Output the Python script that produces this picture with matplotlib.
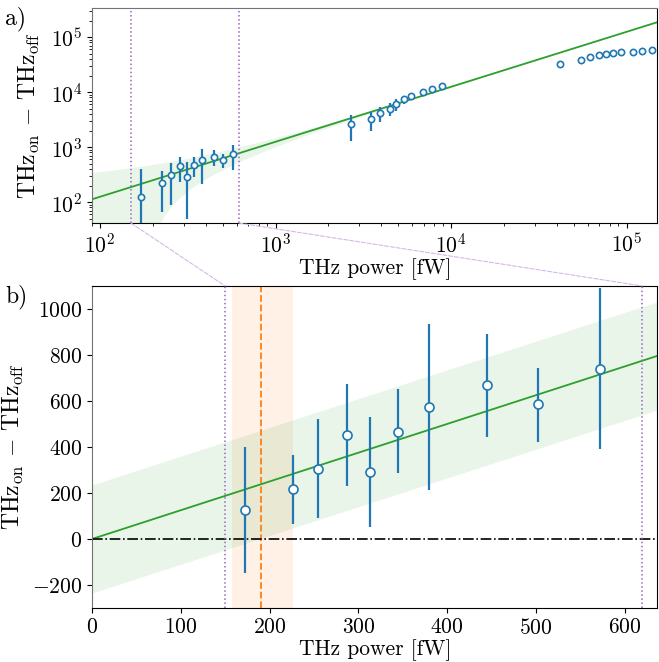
import numpy as np
import matplotlib
matplotlib.use('Agg')
import matplotlib.pyplot as plt
from matplotlib.patches import ConnectionPatch

plt.rcParams['font.family'] = 'serif'
plt.rcParams['font.serif'] = ['cmr10']
plt.rcParams['mathtext.fontset'] = 'cm'
plt.rcParams['axes.unicode_minus'] = False
plt.rcParams['axes.formatter.use_mathtext'] = True
plt.rcParams['font.size'] = 15.5

# low-power points (shown in both panels)
p_low = [172, 226, 255, 287, 313, 345, 380, 445, 503, 572]
s_low = [125, 218, 305, 452, 290, 465, 575, 670, 585, 740]
s_low_lo = [-150, 65, 90, 230, 50, 285, 215, 445, 420, 390]
s_low_hi = [400, 365, 520, 675, 530, 650, 935, 890, 745, 1090]

# mid-power points with error bars (top panel)
p_mid = [2690, 3520, 3950, 4470, 4890, 5370, 5910, 6950, 7830, 8930]
s_mid = [2620, 3230, 4100, 5010, 6120, 7360, 8570, 10000, 11500, 13000]
s_mid_lo = [1300, 1950, 2880, 3660, 4580, 5970, 8570, 10000, 11500, 13000]
s_mid_hi = [3900, 4380, 5260, 6240, 7360, 8100, 8570, 10000, 11500, 13000]

# high-power points (top panel, no error bars)
p_high = [41900, 55100, 62100, 69500, 76200, 83900, 92500, 108300, 122400, 139000]
s_high = [32700, 38700, 43300, 47100, 49800, 51900, 52800, 54100, 56300, 58100]

slope = 1.25
band = 235
zoom_range = [150, 620]
thr = 190
thr_band = [158, 226]

blue = '#1f77b4'
green = '#2ca02c'
purple = '#9467bd'
orange = '#ff7f0e'
ylab = r'THz$_{\rm on}$ $-$ THz$_{\rm off}$'

fig = plt.figure(figsize=(6.59, 6.62), dpi=100)
ax1 = fig.add_axes([0.1396, 0.663, 0.858, 0.325])
ax2 = fig.add_axes([0.1396, 0.0816, 0.858, 0.4864])

# ---- top panel (log-log)
xs = np.logspace(np.log10(80), np.log10(2e5), 400)
ax1.fill_between(xs, np.clip(slope * xs - band, 1e-2, None), slope * xs + band,
                 color=green, alpha=0.1, lw=0)
ax1.plot(xs, slope * xs, color=green, lw=1.3)

p_all = np.array(p_low + p_mid)
s_all = np.array(s_low + s_mid)
lo_all = np.clip(np.array(s_low_lo + s_mid_lo), 1, None)
hi_all = np.array(s_low_hi + s_mid_hi)
ax1.errorbar(p_all, s_all, yerr=[s_all - lo_all, hi_all - s_all], fmt='o',
             ms=4.5, mfc='white', mec=blue, mew=1.2, ecolor=blue, elinewidth=1.6,
             capsize=0, zorder=3)
ax1.plot(p_high, s_high, 'o', ms=4.5, mfc='white', mec=blue, mew=1.2, zorder=3)

for v in zoom_range:
    ax1.axvline(v, color=purple, ls=':', lw=1.1)

ax1.set_xscale('log')
ax1.set_yscale('log')
ax1.set_xlim(90, 1.5e5)
ax1.set_ylim(41.5, 3.4e5)
ax1.set_xlabel('THz power [fW]', labelpad=1)
ax1.set_ylabel(ylab, fontsize=17, labelpad=6)
ax1.spines['left'].set_color('0.45')
ax1.spines['top'].set_color('0.45')

# ---- bottom panel (linear)
xl = np.linspace(0, 640, 50)
ax2.axvspan(thr_band[0], thr_band[1], color=orange, alpha=0.1, lw=0)
ax2.axvline(thr, color=orange, ls='--', lw=1.3)
ax2.fill_between(xl, slope * xl - band, slope * xl + band, color=green, alpha=0.1, lw=0)
ax2.plot(xl, slope * xl, color=green, lw=1.3)
ax2.axhline(0, color='black', ls='-.', lw=1.2)
p = np.array(p_low)
s = np.array(s_low)
ax2.errorbar(p, s, yerr=[s - np.array(s_low_lo), np.array(s_low_hi) - s], fmt='o',
             ms=6.5, mfc='white', mec=blue, mew=1.2, ecolor=blue, elinewidth=1.6,
             capsize=0, zorder=3)
for v in zoom_range:
    ax2.axvline(v, color=purple, ls=':', lw=1.1)

ax2.set_xlim(0, 637)
ax2.set_ylim(-300, 1100)
ax2.set_yticks([-200, 0, 200, 400, 600, 800, 1000])
ax2.set_xticks([0, 100, 200, 300, 400, 500, 600])
ax2.set_xlabel('THz power [fW]', labelpad=1)
ax2.set_ylabel(ylab, fontsize=17, labelpad=4)
ax2.spines['left'].set_color('0.45')

# zoom connectors
for v in zoom_range:
    con = ConnectionPatch(xyA=(v, 41.5), coordsA=ax1.transData,
                          xyB=(v, 1100), coordsB=ax2.transData,
                          color='#d4b8e8', ls='--', lw=0.8)
    fig.add_artist(con)

fig.text(0.008, 0.963, 'a)', fontsize=17)
fig.text(0.008, 0.543, 'b)', fontsize=17)

fig.savefig('out.png', dpi=100)
